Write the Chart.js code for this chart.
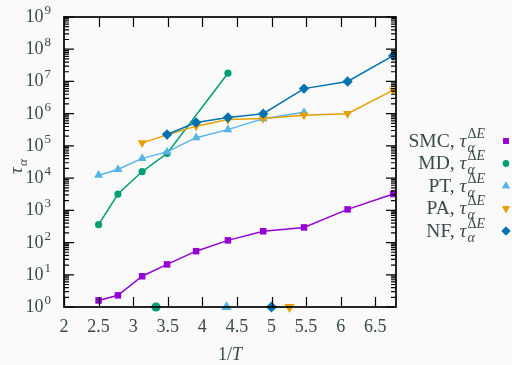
<!DOCTYPE html>
<html>
<head>
<meta charset="utf-8">
<script src="https://cdn.jsdelivr.net/npm/chart.js@4"></script>
<style>
  html, body { margin: 0; background: #fafafa; }
</style>
</head>
<body>
<canvas id="chart" width="512" height="365"></canvas>
<script>
// 1/T positions and tau_alpha values for each method
const xSMC = [2.5, 2.78, 3.13, 3.49, 3.91, 4.37, 4.88, 5.47, 6.1, 6.76];
const ySMC = [1.6, 2.3, 9, 21, 54, 117, 224, 295, 1070, 3200];

const xMD = [2.5, 2.78, 3.13, 3.49, 4.37];
const yMD = [360, 3200, 16000, 58000, 1.8e7];

const xPT = [2.5, 2.78, 3.13, 3.49, 3.91, 4.37, 4.88, 5.47];
const yPT = [12300, 18500, 41000, 65000, 1.8e5, 3.2e5, 7e5, 1.1e6];

const xPA = [3.13, 3.49, 3.91, 4.37, 4.88, 5.47, 6.1, 6.76];
const yPA = [1.24e5, 2.2e5, 4.1e5, 6.6e5, 7.1e5, 9e5, 1e6, 5.4e6];

const xNF = [3.49, 3.91, 4.37, 4.88, 5.47, 6.1, 6.76];
const yNF = [2.25e5, 5.3e5, 7.6e5, 1e6, 6e6, 1e7, 6.3e7];

// markers sitting on the x axis (MD, PT, NF, PA)
const xAxisMarks = [3.33, 4.35, 5.0, 5.26];

const xTicks = [2, 2.5, 3, 3.5, 4, 4.5, 5, 5.5, 6, 6.5];
const yDecades = [0, 1, 2, 3, 4, 5, 6, 7, 8, 9];
const legendNames = ["SMC", "MD", "PT", "PA", "NF"];

const COL = {
  SMC: "#9400d3",
  MD: "#009e73",
  PT: "#56b4e9",
  PA: "#e69f00",
  NF: "#0072b2"
};
const TEXT = "#3a4949";
const SERIF = "'Liberation Serif', 'DejaVu Serif', serif";

const STYLE = {
  SMC: { pointStyle: "rect", radius: 4.6, rotation: 0 },
  MD: { pointStyle: "circle", radius: 3.6, rotation: 0 },
  PT: { pointStyle: "triangle", radius: 5.2, rotation: 0 },
  PA: { pointStyle: "triangle", radius: 5.2, rotation: 180 },
  NF: { pointStyle: "rectRot", radius: 5.2, rotation: 0 }
};

function pts(xs, ys) {
  return xs.map((x, i) => ({ x: x, y: ys[i] }));
}

function series(name, xs, ys, order) {
  const s = STYLE[name];
  return {
    label: name,
    data: pts(xs, ys),
    showLine: true,
    borderColor: COL[name],
    backgroundColor: COL[name],
    borderWidth: 1.5,
    pointStyle: s.pointStyle,
    pointRadius: s.radius,
    pointRotation: s.rotation,
    pointBorderWidth: 0,
    order: order
  };
}

function axisMark(name, x, r) {
  const s = STYLE[name];
  return {
    label: name + " axis",
    data: [{ x: x, y: 1 }],
    showLine: false,
    backgroundColor: COL[name],
    borderColor: COL[name],
    pointStyle: s.pointStyle,
    pointRadius: r,
    pointRotation: s.rotation,
    pointBorderWidth: 0,
    clip: false,
    order: 0
  };
}

function supText(ctx, base, sup, xRight, baseline) {
  ctx.font = "18px " + SERIF;
  const wb = ctx.measureText(base).width;
  ctx.font = "13px " + SERIF;
  const ws = ctx.measureText(sup).width;
  const x0 = xRight - wb - ws - 1;
  ctx.font = "18px " + SERIF;
  ctx.fillText(base, x0, baseline);
  ctx.font = "13px " + SERIF;
  ctx.fillText(sup, x0 + wb + 1, baseline - 8);
}

// draws "NAME, tau_alpha^{Delta E}" right aligned at xRight
function legendText(ctx, name, xRight, baseline) {
  ctx.font = "19.5px " + SERIF;
  const head = name + ", ";
  const wHead = ctx.measureText(head).width;
  ctx.font = "italic 19.5px " + SERIF;
  const wTau = ctx.measureText("τ").width;
  ctx.font = "14px " + SERIF;
  const wD = ctx.measureText("Δ").width;
  ctx.font = "italic 14px " + SERIF;
  const wE = ctx.measureText("E").width;
  const total = wHead + wTau + 1 + wD + wE;
  let x = xRight - total;
  ctx.font = "19.5px " + SERIF;
  ctx.fillText(head, x, baseline);
  x += wHead;
  ctx.font = "italic 19.5px " + SERIF;
  ctx.fillText("τ", x, baseline);
  x += wTau + 1;
  ctx.font = "italic 14px " + SERIF;
  ctx.fillText("α", x, baseline + 5);
  ctx.font = "14px " + SERIF;
  ctx.fillText("Δ", x, baseline - 9);
  ctx.font = "italic 14px " + SERIF;
  ctx.fillText("E", x + wD, baseline - 9);
}

const decorations = {
  id: "decorations",
  afterDraw(chart) {
    const ctx = chart.ctx;
    const a = chart.chartArea;
    const xs = chart.scales.x;
    const ys = chart.scales.y;
    ctx.save();

    // frame
    ctx.strokeStyle = "#000";
    ctx.lineWidth = 1.7;
    ctx.strokeRect(a.left, a.top, a.right - a.left, a.bottom - a.top);

    // x ticks (bottom and top, inside)
    ctx.lineWidth = 1.2;
    ctx.beginPath();
    xTicks.forEach(v => {
      const px = Math.round(xs.getPixelForValue(v)) + 0.5;
      ctx.moveTo(px, a.bottom);
      ctx.lineTo(px, a.bottom - 10);
      ctx.moveTo(px, a.top);
      ctx.lineTo(px, a.top + 10);
    });
    // y ticks (left and right, inside), majors and minors
    yDecades.forEach(d => {
      const py = ys.getPixelForValue(Math.pow(10, d));
      ctx.moveTo(a.left, py);
      ctx.lineTo(a.left + 10, py);
      ctx.moveTo(a.right, py);
      ctx.lineTo(a.right - 10, py);
      if (d < 9) {
        for (let k = 2; k < 10; k++) {
          const pm = ys.getPixelForValue(k * Math.pow(10, d));
          ctx.moveTo(a.left, pm);
          ctx.lineTo(a.left + 5, pm);
          ctx.moveTo(a.right, pm);
          ctx.lineTo(a.right - 5, pm);
        }
      }
    });
    ctx.stroke();

    ctx.fillStyle = TEXT;
    ctx.textBaseline = "alphabetic";

    // x tick labels
    ctx.font = "18px " + SERIF;
    ctx.textAlign = "center";
    xTicks.forEach(v => {
      ctx.fillText(String(v), xs.getPixelForValue(v), a.bottom + 25);
    });

    // y tick labels
    ctx.textAlign = "left";
    yDecades.forEach(d => {
      const py = ys.getPixelForValue(Math.pow(10, d));
      supText(ctx, "10", String(d), a.left - 13, py + 5);
    });

    // x title: 1/T
    ctx.font = "18px " + SERIF;
    const w1 = ctx.measureText("1/").width;
    ctx.font = "italic 18px " + SERIF;
    const wT = ctx.measureText("T").width;
    const cx = (a.left + a.right) / 2;
    ctx.font = "18px " + SERIF;
    ctx.fillText("1/", cx - (w1 + wT) / 2, 360);
    ctx.font = "italic 18px " + SERIF;
    ctx.fillText("T", cx - (w1 + wT) / 2 + w1, 360);

    // y title: tau_alpha, rotated
    ctx.save();
    ctx.translate(22, 165);
    ctx.rotate(-Math.PI / 2);
    ctx.font = "italic 19px " + SERIF;
    ctx.fillText("τ", -9, 0);
    ctx.font = "italic 13px " + SERIF;
    ctx.fillText("α", -1, 5);
    ctx.restore();

    // legend
    legendNames.forEach((name, i) => {
      const my = 141 + i * 22.5;
      ctx.fillStyle = TEXT;
      legendText(ctx, name, 485, my + 5.5);
      const s = STYLE[name];
      ctx.fillStyle = COL[name];
      ctx.strokeStyle = COL[name];
      Chart.helpers.drawPoint(ctx, {
        pointStyle: s.pointStyle,
        radius: name === "SMC" ? 4 : (name === "MD" ? 3.2 : 4.5),
        rotation: s.rotation,
        borderWidth: 0
      }, 506, my);
      ctx.fill();
    });

    ctx.restore();
  }
};

new Chart(document.getElementById("chart"), {
  type: "scatter",
  data: {
    datasets: [
      series("SMC", xSMC, ySMC, 5),
      series("MD", xMD, yMD, 4),
      series("PT", xPT, yPT, 3),
      series("PA", xPA, yPA, 2),
      series("NF", xNF, yNF, 1),
      axisMark("MD", xAxisMarks[0], 4.6),
      axisMark("PT", xAxisMarks[1], 6),
      axisMark("NF", xAxisMarks[2], 5.6),
      axisMark("PA", xAxisMarks[3], 6)
    ]
  },
  options: {
    responsive: false,
    animation: false,
    layout: { padding: { left: 64, right: 116, top: 17, bottom: 58 } },
    plugins: {
      legend: { display: false },
      tooltip: { enabled: false }
    },
    scales: {
      x: {
        type: "linear",
        min: 2,
        max: 6.8,
        ticks: { display: false },
        grid: { display: false },
        border: { display: false },
        afterFit: s => { s.height = 0; }
      },
      y: {
        type: "logarithmic",
        min: 1,
        max: 1e9,
        ticks: { display: false },
        grid: { display: false },
        border: { display: false },
        afterFit: s => { s.width = 0; }
      }
    }
  },
  plugins: [
    {
      id: "bg",
      beforeDraw(chart) {
        const ctx = chart.ctx;
        ctx.save();
        ctx.fillStyle = "#fafafa";
        ctx.fillRect(0, 0, chart.width, chart.height);
        ctx.restore();
      }
    },
    decorations
  ]
});
</script>
</body>
</html>
